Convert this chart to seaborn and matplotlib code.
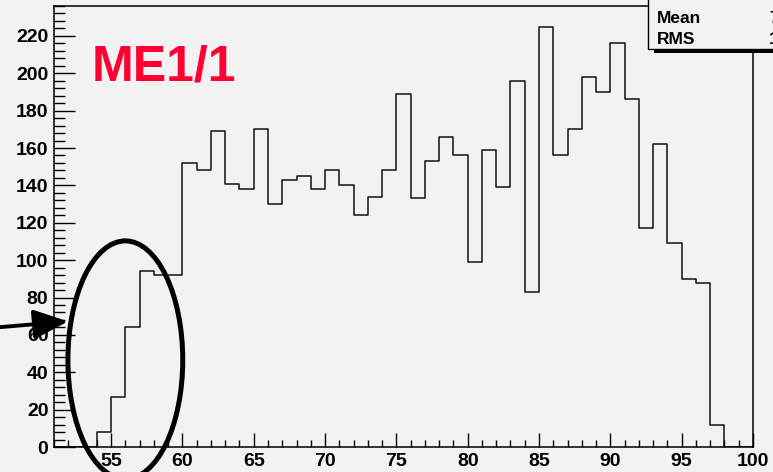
import numpy as np
import pandas as pd
import matplotlib
matplotlib.use("Agg")
import matplotlib.pyplot as plt
import seaborn as sns
from matplotlib.patches import Ellipse, Rectangle, FancyArrowPatch
from matplotlib.ticker import MultipleLocator

# ---- data (bin lower edges, width 1) ----
bin_start = list(range(51, 100))
counts = [0, 0, 0,
          8, 27, 64, 94, 92, 92,
          152, 148, 169, 141, 138, 170, 130, 143, 145, 138,
          148, 140, 124, 134, 148, 189, 133, 153, 166, 156,
          99, 159, 139, 196, 83, 225, 156, 170, 198, 190,
          216, 186, 117, 162, 109, 90, 88, 12, 0, 0]
x_ticks = [55, 60, 65, 70, 75, 80, 85, 90, 95, 100]
y_ticks = list(range(0, 221, 20))
label_text = "ME1/1"
stat_names = ["Mean", "RMS"]
stat_values = ["7", "1"]

df = pd.DataFrame({"x": np.array(bin_start) + 0.5, "w": counts})

BG = "#f2f2f2"
plt.rcParams["font.family"] = ["Liberation Sans", "DejaVu Sans"]
plt.rcParams["font.weight"] = "bold"

fig = plt.figure(figsize=(7.73, 4.72), dpi=100, facecolor=BG)
ax = fig.add_axes([54 / 773, 25 / 472, (753 - 54) / 773, (447 - 6) / 472])
ax.set_facecolor(BG)

sns.histplot(data=df, x="x", weights="w", binwidth=1, binrange=(51, 100),
             element="step", fill=False, color="#111111", linewidth=1.1, ax=ax)

ax.set_xlim(51, 100)
ax.set_ylim(0, 236)
ax.set_xlabel("")
ax.set_ylabel("")
ax.set_xticks(x_ticks)
ax.set_xticklabels([str(t) for t in x_ticks])
ax.set_yticks(y_ticks)
ax.set_yticklabels([str(t) for t in y_ticks])
ax.xaxis.set_minor_locator(MultipleLocator(1))
ax.yaxis.set_minor_locator(MultipleLocator(4))
ax.tick_params(axis="x", which="major", direction="in", length=10, width=1,
               labelsize=14, pad=4)
ax.tick_params(axis="x", which="minor", direction="in", length=5, width=1)
ax.tick_params(axis="y", which="major", direction="in", length=15, width=1,
               labelsize=14, pad=4)
ax.tick_params(axis="y", which="minor", direction="in", length=8, width=1)
for lab in ax.get_xticklabels() + ax.get_yticklabels():
    lab.set_fontweight("bold")
for s in ax.spines.values():
    s.set_linewidth(1.1)
    s.set_color("black")

# big red label
fig.text(92 / 773, (472 - 81) / 472, label_text, color="#ff0033",
         fontsize=36, fontweight="bold", va="baseline", ha="left")

# ellipse annotation (data coords)
ell = Ellipse((56.0, 46.6), 8.05, 127.4, fill=False, edgecolor="black",
              linewidth=3.6, clip_on=False, zorder=5)
ax.add_patch(ell)

# arrow
arr = FancyArrowPatch((47.0, 64.0), (51.98, 67.2),
                      arrowstyle="-|>,head_length=21,head_width=9",
                      mutation_scale=1, color="black", linewidth=2.8,
                      shrinkA=0, shrinkB=0, clip_on=False, zorder=5)
ax.add_patch(arr)

# stats box (clipped at the top-right corner)
shadow = Rectangle((654 / 773, (472 - 53) / 472), 0.2, 0.2,
                   transform=fig.transFigure, facecolor="black",
                   edgecolor="none", zorder=10)
box = Rectangle((648 / 773, (472 - 49) / 472), 0.2, 0.2,
                transform=fig.transFigure, facecolor=BG,
                edgecolor="black", linewidth=1.0, zorder=11)
fig.patches.extend([shadow, box])
for i, (nm, val) in enumerate(zip(stat_names, stat_values)):
    yb = (472 - (23 + 21 * i)) / 472
    fig.text(657 / 773, yb, nm, fontsize=12.5, fontweight="bold",
             va="baseline", ha="left", zorder=12)
    fig.text(769 / 773, yb, val, fontsize=12.5, fontweight="bold",
             va="baseline", ha="left", zorder=12)

fig.savefig("out.png", dpi=100, facecolor=BG)
